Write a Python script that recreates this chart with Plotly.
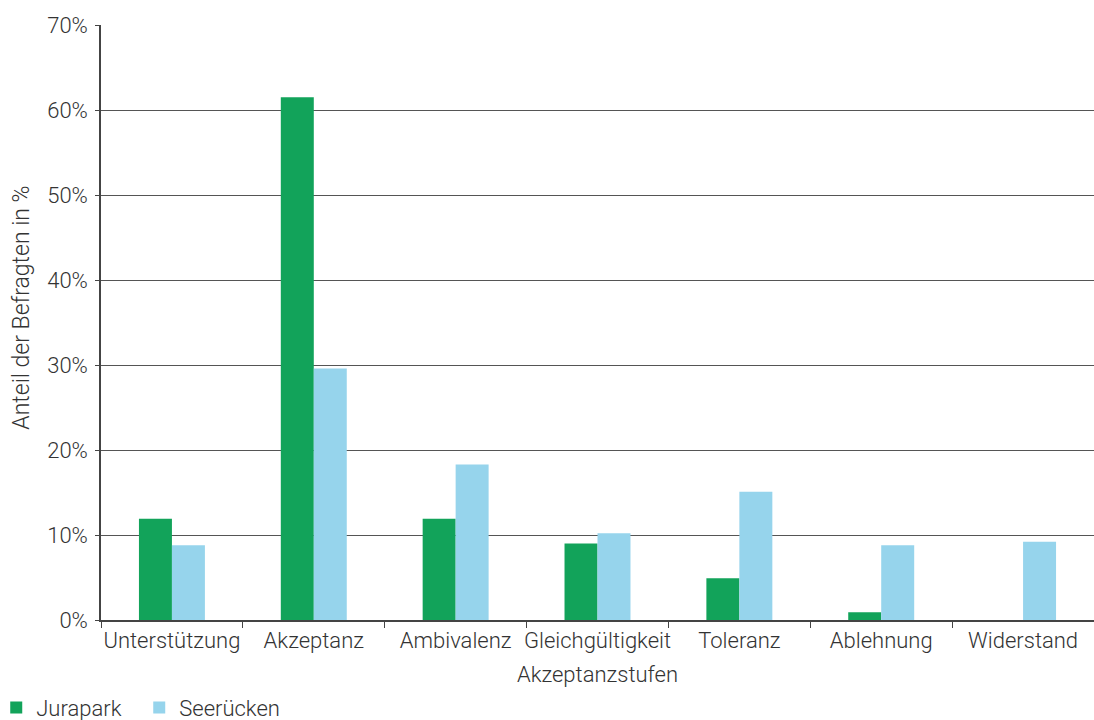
import plotly.graph_objects as go

categories = ["Unterstützung", "Akzeptanz", "Ambivalenz", "Gleichgültigkeit",
              "Toleranz", "Ablehnung", "Widerstand"]
jurapark = [11.9, 61.5, 11.9, 9.0, 4.9, 0.9, 0.0]
seeruecken = [8.8, 29.6, 18.3, 10.2, 15.1, 8.8, 9.2]
y_ticks = [0, 10, 20, 30, 40, 50, 60, 70]
y_tick_labels = [f"{v}%" for v in y_ticks]

FONT = "Roboto"
TXT = "#333333"
FS = 22

fig = go.Figure()
fig.add_trace(go.Bar(name="Jurapark", x=categories, y=jurapark,
                     marker=dict(color="#12A35A", line=dict(width=0))))
fig.add_trace(go.Bar(name="Seerücken", x=categories, y=seeruecken,
                     marker=dict(color="#96D4EC", line=dict(width=0))))

fig.update_layout(
    width=1094, height=720,
    margin=dict(l=101, r=0, t=25, b=100, autoexpand=False),
    paper_bgcolor="white", plot_bgcolor="white",
    barmode="group", bargap=0.535, bargroupgap=0,
    font=dict(family=FONT, size=FS, color=TXT, weight=300),
    showlegend=True,
    legend=dict(orientation="h", x=-0.1055, xanchor="left", y=-0.112, yanchor="top",
                font=dict(family=FONT, size=FS, color=TXT, weight=300),
                itemwidth=30, tracegroupgap=0, itemsizing="constant",
                entrywidth=98, entrywidthmode="pixels"),
    xaxis=dict(
        title=dict(text="Akzeptanzstufen", standoff=14,
                   font=dict(family=FONT, size=FS, color=TXT, weight=300)),
        showline=True, linecolor="#444444", linewidth=1.5,
        ticks="outside", tickson="boundaries", ticklen=6, tickcolor="#444444",
        tickangle=0, automargin=False,
        tickfont=dict(family=FONT, size=FS, color=TXT, weight=300),
        showgrid=False,
    ),
    yaxis=dict(
        range=[0, 70], tickvals=y_ticks, ticktext=y_tick_labels,
        showline=True, linecolor="#444444", linewidth=1.5,
        ticks="outside", ticklen=4, tickcolor="#444444",
        ticklabelstandoff=3, automargin=False,
        showgrid=True, gridcolor="#555555", gridwidth=1.2,
        zeroline=False,
        tickfont=dict(family=FONT, size=FS, color=TXT, weight=300),
    ),
    annotations=[dict(
        text="Anteil der Befragten in %", textangle=-90,
        xref="paper", yref="paper", x=-0.0795, y=0.525,
        xanchor="center", yanchor="middle", showarrow=False,
        font=dict(family=FONT, size=23, color=TXT, weight=300),
    )],
)

fig.write_html(
    "out.html",
    config={"displayModeBar": False},
    post_script="document.body.style.margin='0';document.body.style.overflow='hidden';",
)
